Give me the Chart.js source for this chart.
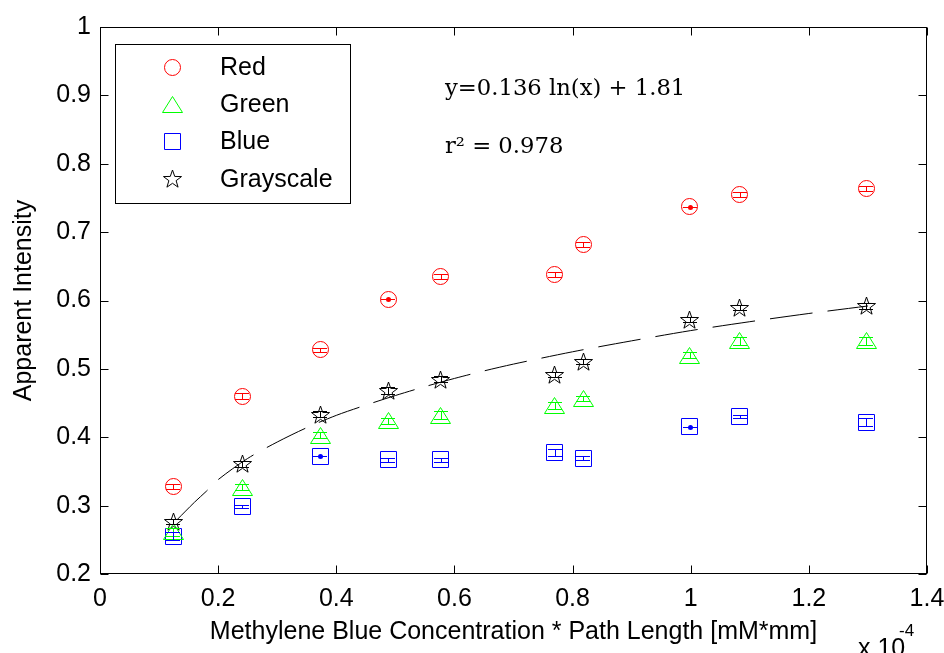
<!DOCTYPE html>
<html>
<head>
<meta charset="utf-8">
<script src="https://cdn.jsdelivr.net/npm/chart.js@4"></script>
<style>
  body { margin: 0; background: #fff; }
  #wrap { width: 944px; height: 653px; }
</style>
</head>
<body>
<div id="wrap"><canvas id="grafico" width="944" height="653"></canvas></div>
<script>
// concentration * path length (x 1e-4 mM*mm)
const conc = [0.124, 0.241, 0.373, 0.488, 0.577, 0.770, 0.818, 0.998, 1.083, 1.297];

const redVals   = [0.328, 0.460, 0.528, 0.602, 0.635, 0.638, 0.682, 0.737, 0.755, 0.764];
const greenVals = [0.262, 0.327, 0.403, 0.424, 0.432, 0.447, 0.457, 0.520, 0.541, 0.541];
const blueVals  = [0.255, 0.299, 0.372, 0.367, 0.367, 0.378, 0.369, 0.415, 0.430, 0.422];
const grayVals  = [0.277, 0.361, 0.434, 0.468, 0.485, 0.492, 0.511, 0.572, 0.590, 0.592];

const redErr   = [0.004, 0.004, 0.003, 0, 0.004, 0.004, 0.004, 0, 0.004, 0.004];
const greenErr = [0.006, 0.004, 0.004, 0.004, 0.006, 0.005, 0.004, 0.004, 0.006, 0.006];
const blueErr  = [0.006, 0.002, 0, 0.003, 0.003, 0.005, 0.003, 0, 0.002, 0.006];
const grayErr  = [0.004, 0.004, 0.004, 0.005, 0.004, 0.004, 0.004, 0.004, 0.004, 0.004];

// log fit
const fitX = [0.13, 0.16, 0.18, 0.20, 0.25, 0.30, 0.35, 0.40, 0.45, 0.50, 0.55, 0.60, 0.65, 0.70, 0.80, 0.90, 1.00, 1.10, 1.20, 1.30];
const fitY = [0.279, 0.305, 0.321, 0.338, 0.369, 0.393, 0.414, 0.432, 0.447, 0.461, 0.474, 0.486, 0.497, 0.507, 0.525, 0.541, 0.556, 0.569, 0.581, 0.592];

const legendNames = ['Red', 'Green', 'Blue', 'Grayscale'];
const fitText = ['y=0.136 ln(x) + 1.81', 'r\u00B2 = 0.978'];

const SANS = '"Liberation Sans", Arial, Helvetica, sans-serif';

// marker images (matlab style, open symbols), drawn on half pixels so they stay crisp
function makeMarker(kind, color) {
    const c = document.createElement('canvas');
    c.width = 25; c.height = 25;
    const g = c.getContext('2d');
    const m = 12.5;
    g.strokeStyle = color;
    g.lineWidth = 1;
    g.beginPath();
    if (kind === 'circle') {
        g.arc(m, m, 8, 0, Math.PI * 2);
    } else if (kind === 'triangle') {
        g.moveTo(m, m - 8);
        g.lineTo(m + 10, m + 8);
        g.lineTo(m - 10, m + 8);
        g.closePath();
    } else if (kind === 'square') {
        g.rect(m - 8, m - 8, 16, 16);
    } else {
        for (let i = 0; i < 10; i++) {
            const r = i % 2 === 0 ? 9.5 : 3.8;
            const a = -Math.PI / 2 + i * Math.PI / 5;
            const px = m + r * Math.cos(a);
            const py = m + 1 + r * Math.sin(a);
            if (i === 0) g.moveTo(px, py); else g.lineTo(px, py);
        }
        g.closePath();
    }
    g.stroke();
    return c;
}

const markers = [
    makeMarker('circle', '#ff0000'),
    makeMarker('triangle', '#00ff00'),
    makeMarker('square', '#0000ff'),
    makeMarker('star', '#000000')
];
const colori = ['#ff0000', '#00ff00', '#0000ff', '#000000'];
const serie = [redVals, greenVals, blueVals, grayVals];
const errori = [redErr, greenErr, blueErr, grayErr];

function punti(vals) {
    return conc.map((x, i) => ({ x: x, y: vals[i] }));
}

const decorazioni = {
    id: 'decorazioni',
    beforeDatasetsDraw(chart) {
        chart.ctx.imageSmoothingEnabled = false;
    },
    afterDatasetsDraw(chart) {
        const ctx = chart.ctx;
        ctx.imageSmoothingEnabled = true;
        const xs = chart.scales.x, ys = chart.scales.y;
        ctx.save();
        ctx.lineWidth = 1;
        // error bars
        for (let s = 0; s < serie.length; s++) {
            ctx.strokeStyle = colori[s];
            ctx.fillStyle = colori[s];
            for (let i = 0; i < conc.length; i++) {
                const px = Math.round(xs.getPixelForValue(conc[i]));
                const top = ys.getPixelForValue(serie[s][i] + errori[s][i]);
                const bot = ys.getPixelForValue(serie[s][i] - errori[s][i]);
                ctx.beginPath();
                ctx.moveTo(px - 7, Math.round(top) + 0.5);
                ctx.lineTo(px + 7, Math.round(top) + 0.5);
                ctx.moveTo(px - 7, Math.round(bot) + 0.5);
                ctx.lineTo(px + 7, Math.round(bot) + 0.5);
                ctx.moveTo(px + 0.5, Math.round(top) + 0.5);
                ctx.lineTo(px + 0.5, Math.round(bot) + 0.5);
                ctx.stroke();
                if (errori[s][i] === 0) {
                    ctx.beginPath();
                    ctx.arc(px + 0.5, Math.round(top) + 0.5, 2.5, 0, Math.PI * 2);
                    ctx.fill();
                }
            }
        }
        ctx.restore();
    },
    afterDraw(chart) {
        const ctx = chart.ctx;
        const a = chart.chartArea;
        const xs = chart.scales.x, ys = chart.scales.y;
        ctx.save();
        ctx.strokeStyle = '#000';
        ctx.lineWidth = 1;
        // box
        const L = Math.round(a.left) + 0.5, R = Math.round(a.right) - 0.5;
        const T = Math.round(a.top) + 0.5, B = Math.round(a.bottom) - 0.5;
        ctx.strokeRect(L, T, R - L, B - T);
        // inner ticks on all sides
        ctx.beginPath();
        xs.ticks.forEach(t => {
            const px = Math.round(xs.getPixelForValue(t.value)) + 0.5;
            ctx.moveTo(px, B); ctx.lineTo(px, B - 8);
            ctx.moveTo(px, T); ctx.lineTo(px, T + 8);
        });
        ys.ticks.forEach(t => {
            const py = Math.round(ys.getPixelForValue(t.value)) + 0.5;
            ctx.moveTo(L, py); ctx.lineTo(L + 8, py);
            ctx.moveTo(R, py); ctx.lineTo(R - 8, py);
        });
        ctx.stroke();

        // legend
        const lx = 115.5, ly = 44.5, lw = 235, lh = 159;
        ctx.fillStyle = '#fff';
        ctx.fillRect(lx, ly, lw, lh);
        ctx.strokeRect(lx, ly, lw, lh);
        ctx.font = '25px ' + SANS;
        ctx.textBaseline = 'middle';
        ctx.textAlign = 'left';
        ctx.fillStyle = '#000';
        ctx.imageSmoothingEnabled = false;
        legendNames.forEach((nome, i) => {
            const cy = 67 + i * 37.3;
            const img = markers[i];
            ctx.drawImage(img, Math.round(172 - img.width / 2), Math.round(cy - img.height / 2));
            ctx.fillText(nome, 220, cy + 1);
        });

        // fit equation
        ctx.font = '22.7px "DejaVu Serif", serif';
        ctx.textBaseline = 'alphabetic';
        ctx.fillText(fitText[0], 445, 95);
        ctx.fillText(fitText[1], 445, 153);

        // x10^-4 multiplier
        ctx.font = '25px ' + SANS;
        ctx.fillText('x 10', 858, 656);
        ctx.font = '17px ' + SANS;
        ctx.fillText('-4', 899, 636);
        ctx.restore();
    }
};

const chart = new Chart(document.getElementById('grafico').getContext('2d'), {
    type: 'scatter',
    data: {
        datasets: [
            {
                label: 'fit',
                data: fitX.map((x, i) => ({ x: x, y: fitY[i] })),
                showLine: true,
                borderColor: '#000',
                borderWidth: 1,
                borderDash: [43, 15],
                pointRadius: 0,
                tension: 0.3,
                fill: false
            },
            ...legendNames.map((nome, s) => ({
                label: nome,
                data: punti(serie[s]),
                pointStyle: markers[s],
                pointRadius: 8,
                borderColor: colori[s],
                backgroundColor: colori[s]
            }))
        ]
    },
    options: {
        responsive: false,
        animation: false,
        events: [],
        layout: { padding: { left: 0, top: 27, right: 17, bottom: 0 } },
        plugins: {
            legend: { display: false },
            tooltip: { enabled: false }
        },
        scales: {
            x: {
                type: 'linear',
                min: 0,
                max: 1.4,
                afterFit: s => { s.height = 79; s.paddingLeft = 0; s.paddingRight = 0; },
                border: { display: false },
                grid: { drawOnChartArea: false, drawTicks: false, display: false },
                ticks: {
                    stepSize: 0.2,
                    padding: 10,
                    color: '#000',
                    font: { family: SANS, size: 25 },
                    callback: v => String(Number(v.toFixed(2)))
                },
                title: {
                    display: true,
                    text: 'Methylene Blue Concentration * Path Length [mM*mm]',
                    color: '#000',
                    font: { family: SANS, size: 25 },
                    padding: { top: 0, bottom: 6 }
                }
            },
            y: {
                type: 'linear',
                min: 0.2,
                max: 1,
                afterFit: s => { s.width = 100; s.paddingTop = 0; s.paddingBottom = 0; },
                border: { display: false },
                grid: { drawOnChartArea: false, drawTicks: false, display: false },
                ticks: {
                    stepSize: 0.1,
                    padding: 9,
                    color: '#000',
                    font: { family: SANS, size: 25 },
                    callback: v => String(Number(v.toFixed(2)))
                },
                title: {
                    display: true,
                    text: 'Apparent Intensity',
                    color: '#000',
                    font: { family: SANS, size: 25 },
                    padding: { top: 9, bottom: 0 }
                }
            }
        }
    },
    plugins: [decorazioni]
});
</script>
</body>
</html>
